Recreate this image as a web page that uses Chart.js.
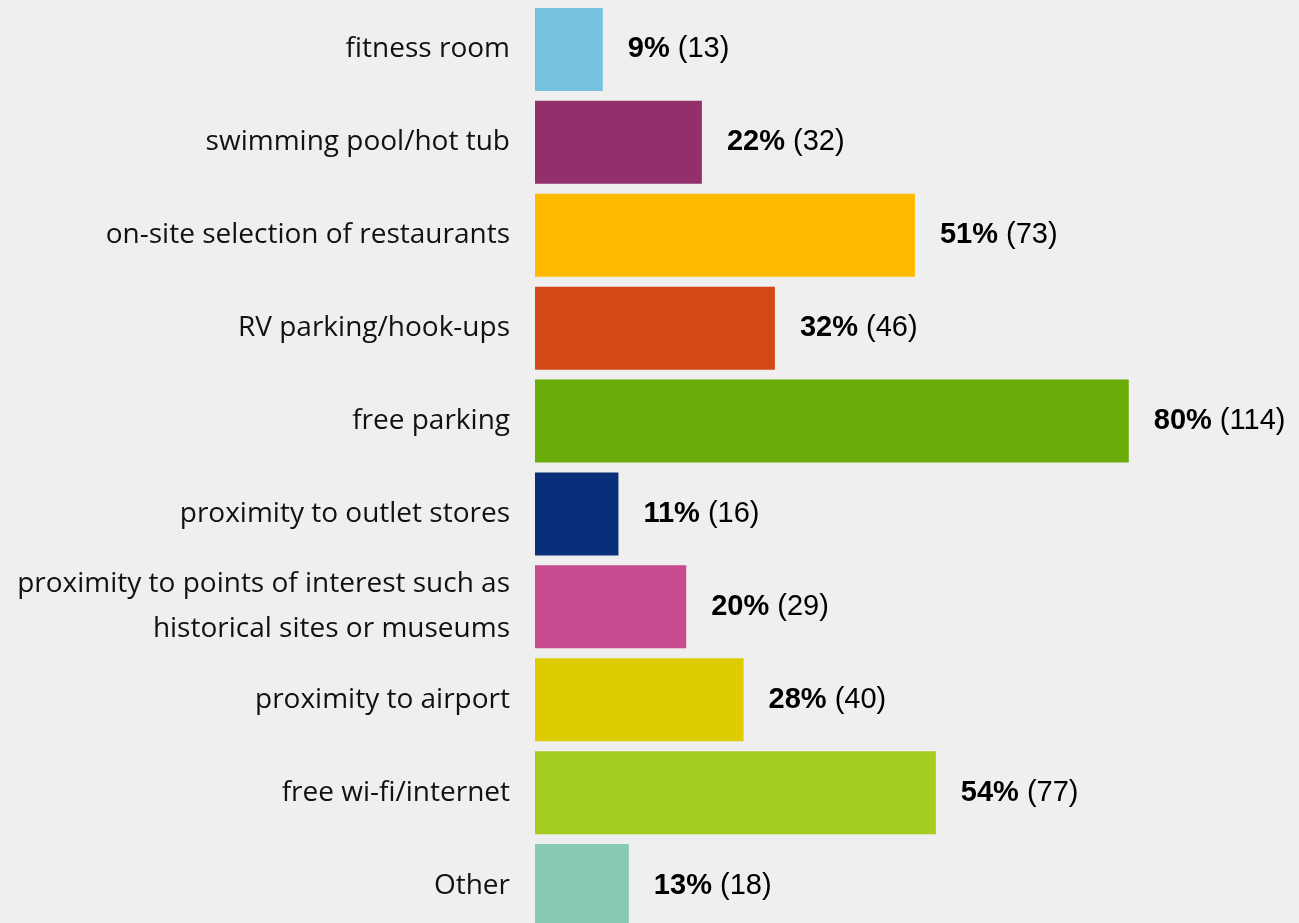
<!DOCTYPE html>
<html lang="en">
<head>
<meta charset="UTF-8">
<title>Amenities</title>
<script src="https://cdn.jsdelivr.net/npm/chart.js"></script>
<style>
    html, body { margin: 0; padding: 0; background: #efefef; overflow: hidden; }
    #box { width: 1299px; height: 935px; position: relative; }
</style>
</head>
<body>
<div id="box">
    <canvas id="grafico"></canvas>
</div>
<script>
    // categorias e valores
    var categorias = [
        'fitness room',
        'swimming pool/hot tub',
        'on-site selection of restaurants',
        'RV parking/hook-ups',
        'free parking',
        'proximity to outlet stores',
        ['proximity to points of interest such as', 'historical sites or museums'],
        'proximity to airport',
        'free wi-fi/internet',
        'Other'
    ];
    var percentuais = [9.1, 22.4, 51.0, 32.2, 79.7, 11.2, 20.3, 28.0, 53.8, 12.6];
    var rotulosPct = ['9%', '22%', '51%', '32%', '80%', '11%', '20%', '28%', '54%', '13%'];
    var contagens = [13, 32, 73, 46, 114, 16, 29, 40, 77, 18];
    var cores = ['#76c1e0', '#93306b', '#ffba00', '#d44816', '#6aad0b',
                 '#0a2f7a', '#c84b8f', '#dccc00', '#a5cc21', '#86cbb2'];

    // desenha "9% (13)" ao lado de cada barra
    var rotulos = {
        id: 'rotulos',
        afterDatasetsDraw: function (chart) {
            var ctx = chart.ctx;
            var barras = chart.getDatasetMeta(0).data;
            ctx.save();
            ctx.textBaseline = 'middle';
            ctx.fillStyle = '#000';
            for (var i = 0; i < barras.length; i++) {
                var x = barras[i].x + 25;
                var y = barras[i].y;
                ctx.font = 'bold 29px "Liberation Sans", Arial, sans-serif';
                ctx.fillText(rotulosPct[i], x, y);
                var w = ctx.measureText(rotulosPct[i]).width;
                ctx.font = '29px "Liberation Sans", Arial, sans-serif';
                ctx.fillText(' (' + contagens[i] + ')', x + w, y);
            }
            ctx.restore();
        }
    };

    var ctx = document.getElementById('grafico').getContext('2d');
    var grafico = new Chart(ctx, {
        type: 'bar',
        data: {
            labels: categorias,
            datasets: [{
                data: percentuais,
                backgroundColor: cores,
                borderWidth: 0,
                barPercentage: 0.893,
                categoryPercentage: 1
            }]
        },
        options: {
            indexAxis: 'y',
            responsive: true,
            maintainAspectRatio: false,
            animation: false,
            layout: { padding: { top: 3, bottom: 3, left: 0, right: 19 } },
            plugins: {
                legend: { display: false },
                tooltip: { enabled: false }
            },
            scales: {
                x: {
                    display: false,
                    min: 0,
                    max: 100
                },
                y: {
                    grid: { display: false, drawTicks: false },
                    border: { display: false },
                    afterFit: function (escala) {
                        escala.width = 535;
                        escala.paddingTop = 0;
                        escala.paddingBottom = 0;
                    },
                    ticks: {
                        padding: 25,
                        color: '#111',
                        font: { family: '"Open Sans", sans-serif', size: 28, lineHeight: 1.6 }
                    }
                }
            }
        },
        plugins: [rotulos]
    });
</script>
</body>
</html>
